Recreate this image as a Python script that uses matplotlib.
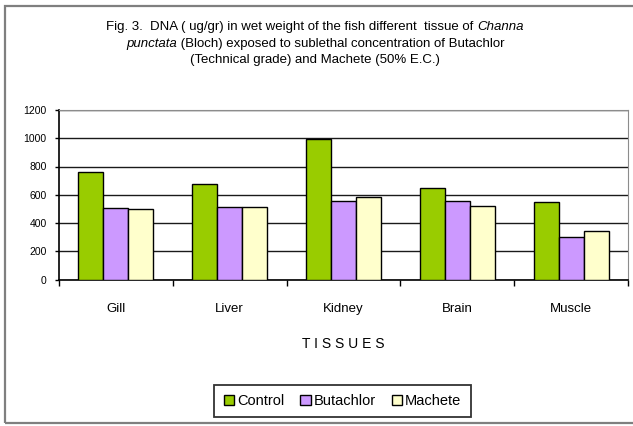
import numpy as np
import matplotlib.pyplot as plt
from matplotlib.patches import Rectangle

plt.rcParams['font.family'] = ['Liberation Sans', 'DejaVu Sans']

# data
tissues = ['Gill', 'Liver', 'Kidney', 'Brain', 'Muscle']
control = [764, 678, 993, 647, 552]
butachlor = [504, 513, 558, 558, 304]
machete = [502, 513, 581, 522, 344]
series_names = ['Control', 'Butachlor', 'Machete']
colors = ['#99CC00', '#CC99FF', '#FFFFCC']

fig = plt.figure(figsize=(6.33, 4.26), dpi=100)
W, H = 633, 426

# outer frame
fig.patches.append(Rectangle((5 / W, 3 / H), 1.2, 1 - 9 / H, transform=fig.transFigure,
                             fill=False, edgecolor='#7f7f7f', linewidth=1.6))

ax = fig.add_axes([59 / W, 1 - 279.5 / H, (628 - 59) / W, (279.5 - 110) / H])

x = np.arange(len(tissues))
bw = 0.22
for k, vals in enumerate([control, butachlor, machete]):
    ax.bar(x + (k - 1) * bw, vals, bw, color=colors[k], edgecolor='black',
           linewidth=1.0, label=series_names[k], zorder=3)

ax.set_xlim(-0.5, len(tissues) - 0.5)
ax.set_ylim(0, 1200)
ax.set_yticks(np.arange(0, 1201, 200))
ax.yaxis.grid(True, color='#1a1a1a', linewidth=1.0, zorder=0)
ax.set_axisbelow(True)

ax.set_xticks(x)
ax.set_xticklabels(tissues, fontsize=9.5)
ax.set_xticks(np.arange(-0.5, len(tissues)), minor=True)
ax.tick_params(axis='x', which='major', length=0, pad=17)
ax.tick_params(axis='x', which='minor', length=4, width=1.0, direction='out')
ax.tick_params(axis='y', length=3, width=1.0, labelsize=7.5, pad=6)

for s in ['top', 'right']:
    ax.spines[s].set_color('#8c8c8c')
for s in ['left', 'bottom']:
    ax.spines[s].set_color('black')
    ax.spines[s].set_linewidth(1.2)

ax.set_xlabel('T I S S U E S', fontsize=10, labelpad=16)

leg = ax.legend(loc='center', bbox_to_anchor=(342.5 / W, 1 - 401 / H), bbox_transform=fig.transFigure,
                ncol=3, fontsize=10.5, frameon=True, fancybox=False, handlelength=0.7,
                handleheight=0.7, handletextpad=0.2, columnspacing=1.1, borderpad=0.65,
                borderaxespad=0, edgecolor='black')
leg.get_frame().set_linewidth(1.3)

# title with italic species name
fs = 9.5
renderer = fig.canvas.get_renderer()

def line_parts(parts, y):
    texts = []
    for s, style in parts:
        t = fig.text(0, y, s, fontsize=fs, style=style, va='center', ha='left')
        texts.append(t)
    widths = [t.get_window_extent(renderer).width for t in texts]
    start = 315 - sum(widths) / 2
    for t, w in zip(texts, widths):
        t.set_x(start / W)
        start += w

line_parts([('Fig. 3.  DNA ( ug/gr) in wet weight of the fish different  tissue of ', 'normal'),
            ('Channa', 'italic')], 1 - 27 / H)
line_parts([('punctata', 'italic'),
            (' (Bloch) exposed to sublethal concentration of Butachlor', 'normal')], 1 - 43.5 / H)
line_parts([('(Technical grade) and Machete (50% E.C.)', 'normal')], 1 - 60 / H)

fig.savefig('out.png', dpi=100)
